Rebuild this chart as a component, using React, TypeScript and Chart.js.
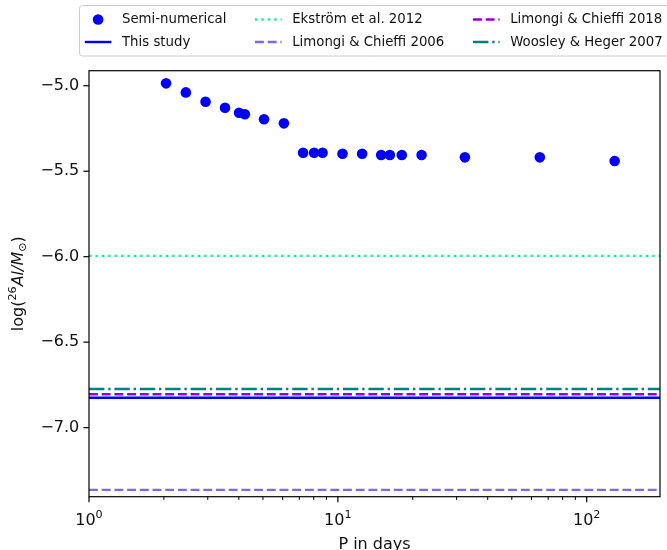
import { useEffect, useRef } from "react";
import { Chart, registerables } from "chart.js";

Chart.register(...registerables);

// ---- data ----
const periods = [2.04, 2.45, 2.94, 3.52, 4.01, 4.23, 5.05, 6.07, 7.25, 8.03, 8.68, 10.44, 12.52, 14.93, 16.18, 18.07, 21.7, 32.4, 64.8, 129.5];
const semiNumerical = [-4.986, -5.039, -5.094, -5.129, -5.158, -5.167, -5.196, -5.22, -5.392, -5.392, -5.392, -5.398, -5.398, -5.405, -5.405, -5.405, -5.405, -5.419, -5.419, -5.44];
const modelLabels = ["This study", "Ekstr\u00f6m et al. 2012", "Limongi & Chieffi 2006", "Limongi & Chieffi 2018", "Woosley & Heger 2007"];
const modelValues = [-6.825, -5.995, -7.364, -6.805, -6.774];
const xLimits = [1, 197];
const yLimits = [-7.404, -4.912];
const yTickValues = [-7.0, -6.5, -6.0, -5.5, -5.0];
const xMajorTicks = [1, 10, 100];
const xMajorExponents = ["0", "1", "2"];
const xMinorTicks = [2, 3, 4, 5, 6, 7, 8, 9, 20, 30, 40, 50, 60, 70, 80, 90];

// ---- styles ----
const FONT = '"DejaVu Sans", sans-serif';
const modelColors = ["#0000ff", "#00ff7f", "#7b68ee", "#9400d3", "#008080"];
const LW = 2.4;
const modelDashes: number[][] = [[], [2.4, 4], [8.9, 3.8], [8.9, 3.8], [15.4, 3.8, 2.4, 3.8]];

const decorPlugin = {
  id: "decor",
  afterDraw(chart: any) {
    const { ctx, chartArea: a, scales } = chart;
    const xs = scales.x;
    ctx.save();
    // frame
    ctx.strokeStyle = "#000";
    ctx.lineWidth = 1.2;
    ctx.setLineDash([]);
    ctx.strokeRect(a.left, a.top, a.right - a.left, a.bottom - a.top);

    // y ticks
    ctx.lineWidth = 1.2;
    yTickValues.forEach((v) => {
      const py = scales.y.getPixelForValue(v);
      ctx.beginPath();
      ctx.moveTo(a.left, py);
      ctx.lineTo(a.left - 5.6, py);
      ctx.stroke();
    });
    // x ticks
    xMajorTicks.forEach((v) => {
      const px = xs.getPixelForValue(v);
      ctx.beginPath();
      ctx.moveTo(px, a.bottom);
      ctx.lineTo(px, a.bottom + 5.6);
      ctx.stroke();
    });
    ctx.lineWidth = 1;
    xMinorTicks.forEach((v) => {
      const px = xs.getPixelForValue(v);
      ctx.beginPath();
      ctx.moveTo(px, a.bottom);
      ctx.lineTo(px, a.bottom + 3.2);
      ctx.stroke();
    });

    // x tick labels 10^n
    ctx.fillStyle = "#111";
    ctx.textBaseline = "alphabetic";
    ctx.textAlign = "left";
    xMajorTicks.forEach((v, i) => {
      const px = xs.getPixelForValue(v);
      ctx.font = `16px ${FONT}`;
      const w1 = ctx.measureText("10").width;
      ctx.font = `11.2px ${FONT}`;
      const w2 = ctx.measureText(xMajorExponents[i]).width;
      const x0 = px - (w1 + w2) / 2;
      ctx.font = `16px ${FONT}`;
      ctx.fillText("10", x0, 524.5);
      ctx.font = `11.2px ${FONT}`;
      ctx.fillText(xMajorExponents[i], x0 + w1, 517.5);
    });

    // x title
    ctx.font = `16px ${FONT}`;
    ctx.textAlign = "center";
    ctx.fillText("P in days", (a.left + a.right) / 2, 548.5);

    // y title
    const segs = [
      { t: "log(", f: `16px ${FONT}`, dy: 0 },
      { t: "26", f: `11.2px ${FONT}`, dy: -7 },
      { t: "Al/M", f: `italic 16px ${FONT}`, dy: 0 },
      { t: "\u2299", f: `11.2px ${FONT}`, dy: 3.5 },
      { t: ")", f: `16px ${FONT}`, dy: 0 },
    ];
    let total = 0;
    const widths = segs.map((s) => {
      ctx.font = s.f;
      const w = ctx.measureText(s.t).width;
      total += w;
      return w;
    });
    ctx.save();
    ctx.translate(22.5, (a.top + a.bottom) / 2);
    ctx.rotate(-Math.PI / 2);
    ctx.textAlign = "left";
    let cx = -total / 2;
    segs.forEach((s, i) => {
      ctx.font = s.f;
      ctx.fillText(s.t, cx, s.dy);
      cx += widths[i];
    });
    ctx.restore();

    // legend
    ctx.setLineDash([]);
    ctx.fillStyle = "rgba(255,255,255,0.8)";
    ctx.strokeStyle = "#cccccc";
    ctx.lineWidth = 1;
    ctx.beginPath();
    (ctx as any).roundRect(79.5, 5.5, 592, 50.5, 3);
    ctx.fill();
    ctx.stroke();
    const colX = [84.8, 255, 473];
    const rowY = [19.5, 42];
    const HL = 26.6;
    ctx.font = `13.3px ${FONT}`;
    ctx.textBaseline = "middle";
    ctx.textAlign = "left";
    chart.data.datasets.forEach((d: any, i: number) => {
      const col = Math.floor(i / 2);
      const row = i % 2;
      const hx = colX[col];
      const cy = rowY[row];
      if (d.showLine) {
        ctx.strokeStyle = d.borderColor;
        ctx.lineWidth = LW;
        ctx.setLineDash(d.borderDash || []);
        ctx.beginPath();
        ctx.moveTo(hx, cy);
        ctx.lineTo(hx + HL, cy);
        ctx.stroke();
        ctx.setLineDash([]);
      } else {
        ctx.fillStyle = d.pointBackgroundColor;
        ctx.beginPath();
        ctx.arc(hx + HL / 2, cy, d.pointRadius, 0, Math.PI * 2);
        ctx.fill();
      }
      ctx.fillStyle = "#111";
      ctx.fillText(d.label, hx + HL + 10.6, cy + 0.5);
    });
    ctx.restore();
  },
};

export default function App() {
  const ref = useRef<HTMLCanvasElement | null>(null);
  useEffect(() => {
    if (!ref.current) return;
    const datasets: any[] = [
      {
        label: "Semi-numerical",
        data: periods.map((p, i) => ({ x: p, y: semiNumerical[i] })),
        showLine: false,
        pointRadius: 5.3,
        pointBackgroundColor: "#0000ff",
        pointBorderColor: "#0000ff",
        pointBorderWidth: 0,
        pointHoverRadius: 5.3,
      },
      ...modelLabels.map((lab, i) => ({
        label: lab,
        data: xLimits.map((xv) => ({ x: xv, y: modelValues[i] })),
        showLine: true,
        borderColor: modelColors[i],
        borderWidth: LW,
        borderDash: modelDashes[i],
        borderCapStyle: "butt",
        pointRadius: 0,
        pointHoverRadius: 0,
      })),
    ];
    const chart = new Chart(ref.current, {
      type: "scatter",
      data: { datasets },
      options: {
        animation: false,
        responsive: true,
        maintainAspectRatio: false,
        events: [],
        layout: { padding: { left: 0, top: 70.7, right: 7, bottom: 53.3 } },
        plugins: { legend: { display: false }, tooltip: { enabled: false } },
        scales: {
          x: {
            type: "logarithmic",
            min: xLimits[0],
            max: xLimits[1],
            display: false,
          },
          y: {
            type: "linear",
            position: "left",
            min: yLimits[0],
            max: yLimits[1],
            grid: { display: false, drawTicks: false },
            border: { display: false },
            afterBuildTicks: (s: any) => {
              s.ticks = yTickValues.map((v) => ({ value: v }));
            },
            afterFit: (s: any) => {
              s.width = 89;
            },
            ticks: {
              padding: 9.7,
              color: "#111",
              font: { family: FONT, size: 16 },
              callback: (v: any) => Number(v).toFixed(1).replace("-", "\u2212"),
            },
          },
        },
      },
      plugins: [decorPlugin],
    } as any);
    return () => chart.destroy();
  }, []);
  return (
    <div style={{ position: "fixed", left: 0, top: 0, width: 667, height: 550, background: "#fff" }}>
      <canvas ref={ref} />
    </div>
  );
}
